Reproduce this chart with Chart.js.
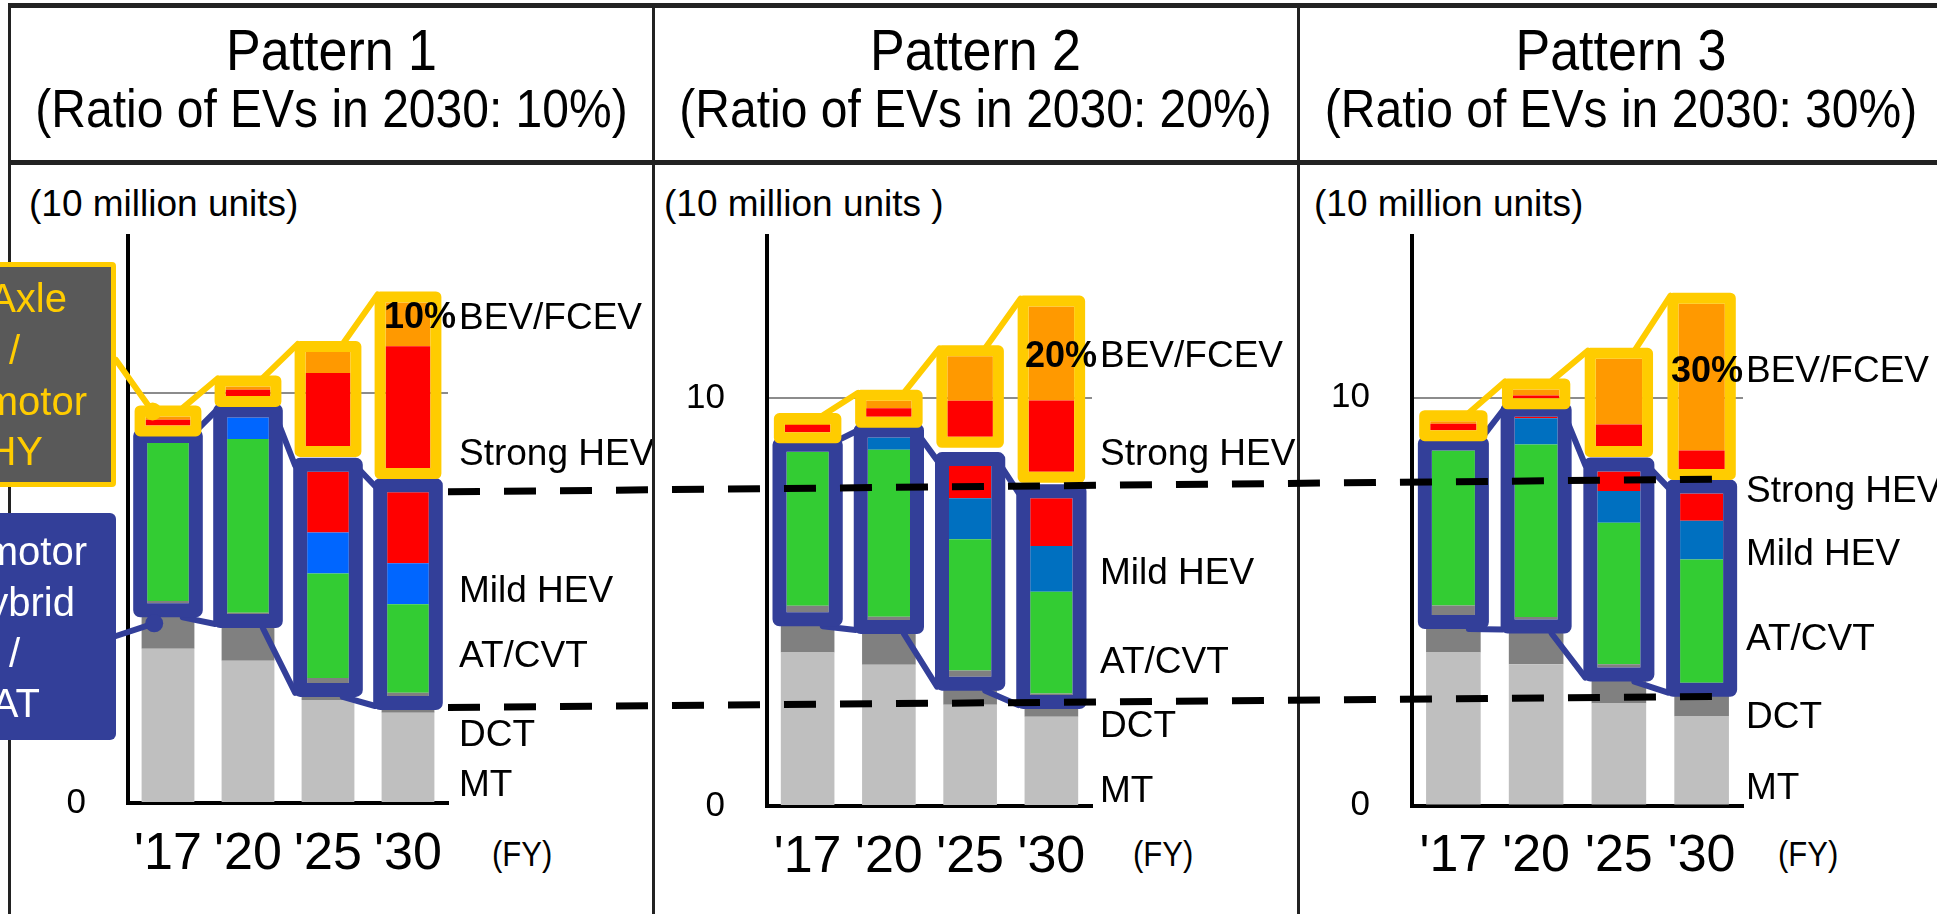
<!DOCTYPE html>
<html>
<head>
<meta charset="utf-8">
<script src="https://cdn.jsdelivr.net/npm/chart.js@4.4.1/dist/chart.umd.min.js"></script>
<style>
  body { margin: 0; width: 1937px; height: 914px; overflow: hidden; background: #fff; position: relative;
         font-family: 'Liberation Sans', Arial, sans-serif; color: #000; }
  .rule { position: absolute; background: #222; }
  .txt { position: absolute; white-space: nowrap; line-height: 1; }
  .ttl { position: absolute; white-space: nowrap; line-height: 1; text-align: center; transform: scaleY(1.12); }
  .leg { position: absolute; white-space: nowrap; line-height: 40px; font-size: 40px; text-align: right; width: 300px; z-index: 3; }
  canvas { position: absolute; z-index: 1; }
</style>
</head>
<body>

<!-- table frame -->
<div class="rule" style="left:8px;top:3px;width:1929px;height:5px"></div>
<div class="rule" style="left:8px;top:160px;width:1929px;height:5px"></div>
<div class="rule" style="left:8px;top:3px;width:3px;height:911px"></div>
<div class="rule" style="left:652px;top:3px;width:3px;height:911px"></div>
<div class="rule" style="left:1297px;top:3px;width:3px;height:911px"></div>

<div class="ttl" style="left:11px;width:641px;top:24px;font-size:52px">Pattern 1</div>
<div class="ttl" style="left:11px;width:641px;top:85px;font-size:48px">(Ratio of EVs in 2030: 10%)</div>
<div class="ttl" style="left:655px;width:641px;top:24px;font-size:52px">Pattern 2</div>
<div class="ttl" style="left:655px;width:641px;top:85px;font-size:48px">(Ratio of EVs in 2030: 20%)</div>
<div class="ttl" style="left:1300px;width:642px;top:24px;font-size:52px">Pattern 3</div>
<div class="ttl" style="left:1300px;width:642px;top:85px;font-size:48px">(Ratio of EVs in 2030: 30%)</div>

<div class="txt" style="left:29px;top:185px;font-size:37px">(10 million units)</div>
<div class="txt" style="left:664px;top:185px;font-size:37px">(10 million units )</div>
<div class="txt" style="left:1314px;top:185px;font-size:37px">(10 million units)</div>

<div class="txt" style="left:492px;top:838px;font-size:31px;transform:scaleY(1.15)">(FY)</div>
<div class="txt" style="left:1133px;top:838px;font-size:31px;transform:scaleY(1.15)">(FY)</div>
<div class="txt" style="left:1778px;top:838px;font-size:31px;transform:scaleY(1.15)">(FY)</div>

<canvas id="c1" width="640" height="748" style="left:12px;top:166px"></canvas>
<canvas id="c2" width="640" height="748" style="left:656px;top:166px"></canvas>
<canvas id="c3" width="636" height="748" style="left:1301px;top:166px"></canvas>

<!-- callout boxes on the left edge -->
<div style="position:absolute;left:-100px;top:262px;width:216px;height:225px;box-sizing:border-box;border:5px solid #FFCC00;background:#595959;border-radius:4px;z-index:2"></div>
<div class="leg" style="left:-233px;top:278px;color:#FFCC00">e-Axle</div>
<div class="leg" style="left:-280px;top:330px;color:#FFCC00">/</div>
<div class="leg" style="left:-213px;top:381px;color:#FFCC00">motor</div>
<div class="leg" style="left:-257px;top:431px;color:#FFCC00">for HY</div>

<div style="position:absolute;left:-100px;top:513px;width:216px;height:227px;background:#333F99;border-radius:6px;z-index:2"></div>
<div class="leg" style="left:-213px;top:531px;color:#fff">motor</div>
<div class="leg" style="left:-225px;top:582px;color:#fff">for hybrid</div>
<div class="leg" style="left:-280px;top:633px;color:#fff">/</div>
<div class="leg" style="left:-260px;top:683px;color:#fff">AT</div>

<canvas id="overlay" width="1937" height="914" style="left:0;top:0;z-index:4;pointer-events:none"></canvas>

<script>
const years = ["'17", "'20", "'25", "'30"];
const rowLabels = ['BEV/FCEV', 'Strong HEV', 'Mild HEV', 'AT/CVT', 'DCT', 'MT'];
const yTicks = [0, 10];

// Pattern 1 (EVs 10% in 2030), 10 million units
const mt1         = [3.76, 3.47, 2.51, 2.20];
const dct1        = [0.85, 0.99, 0.15, 0.15];
const lowGap1     = [0.26, 0.15, 0.27, 0.26];
const dctBox1     = [0.06, 0.03, 0.12, 0.08];
const atcvt1      = [3.85, 4.24, 2.55, 2.16];
const mild1       = [0.00, 0.52, 1.00, 1.00];
const strongHy1   = [0.00, 0.00, 1.48, 1.73];
const highGap1    = [0.43, 0.53, 0.63, 0.59];
const strongAxle1 = [0.14, 0.15, 1.78, 2.97];
const bev1        = [0.08, 0.08, 0.51, 1.07];
const labelPos1   = [11.82, 8.49, 5.15, 3.56, 1.64, 0.42];

// Pattern 2 (EVs 20% in 2030)
const mt2         = [3.76, 3.46, 2.48, 2.19];
const dct2        = [0.80, 0.93, 0.46, 0.33];
const lowGap2     = [0.19, 0.17, 0.23, 0.20];
const dctBox2     = [0.16, 0.08, 0.15, 0.04];
const atcvt2      = [3.77, 4.09, 3.22, 2.49];
const mild2       = [0.00, 0.30, 1.00, 1.12];
const strongHy2   = [0.00, 0.00, 0.79, 1.17];
const highGap2    = [0.48, 0.51, 0.72, 0.65];
const strongAxle2 = [0.18, 0.21, 0.88, 1.75];
const bev2        = [0.02, 0.18, 1.09, 2.30];
const labelPos2   = [11.01, 8.60, 5.70, 3.50, 1.94, 0.35];

// Pattern 3 (EVs 30% in 2030)
const mt3         = [3.75, 3.46, 2.50, 2.18];
const dct3        = [0.75, 0.91, 0.62, 0.67];
const lowGap3     = [0.17, 0.19, 0.26, 0.16];
const dctBox3     = [0.23, 0.06, 0.08, 0.00];
const atcvt3      = [3.80, 4.23, 3.47, 3.02];
const mild3       = [0.00, 0.64, 0.78, 0.95];
const strongHy3   = [0.00, 0.04, 0.48, 0.67];
const highGap3    = [0.50, 0.45, 0.62, 0.60];
const strongAxle3 = [0.16, 0.07, 0.53, 0.45];
const bev3        = [0.06, 0.15, 1.61, 3.60];
const labelPos3   = [10.62, 7.69, 6.14, 4.06, 2.14, 0.42];

// dashed guide lines: [value on pattern 1 axis, value on pattern 3 axis]
const upperDash = [7.59, 8.00];
const lowerDash = [2.33, 2.67];

const BLUE = '#333F99';
const YELLOW = '#FFCC00';
const FONT = "'Liberation Sans', Arial, sans-serif";
Chart.defaults.font.family = FONT;
Chart.defaults.color = '#000';

const panels = [
  { id: 'c1', share: '10%', mildColor: '#0066FF', yMax: 13.83, axisW: 116, axisH: 111, padR: 204, labelGap: 11, legend: true,
    mt: mt1, dct: dct1, lowGap: lowGap1, dctBox: dctBox1, atcvt: atcvt1, mild: mild1, strongHy: strongHy1,
    highGap: highGap1, strongAxle: strongAxle1, bev: bev1, labelPos: labelPos1 },
  { id: 'c2', share: '20%', mildColor: '#0070C0', yMax: 13.97, axisW: 111, axisH: 108, padR: 204, labelGap: 8, legend: false,
    mt: mt2, dct: dct2, lowGap: lowGap2, dctBox: dctBox2, atcvt: atcvt2, mild: mild2, strongHy: strongHy2,
    highGap: highGap2, strongAxle: strongAxle2, bev: bev2, labelPos: labelPos2 },
  { id: 'c3', share: '30%', mildColor: '#0070C0', yMax: 13.96, axisW: 111, axisH: 108.5, padR: 194, labelGap: 3, legend: false,
    mt: mt3, dct: dct3, lowGap: lowGap3, dctBox: dctBox3, atcvt: atcvt3, mild: mild3, strongHy: strongHy3,
    highGap: highGap3, strongAxle: strongAxle3, bev: bev3, labelPos: labelPos3 }
];

function buildDatasets(p) {
  const outer = 0.66, inner = 0.52, upper = 0.56, none = 'rgba(0,0,0,0)';
  return [
    { label: 'MT', data: p.mt, backgroundColor: '#BFBFBF', barPercentage: outer },
    { label: 'DCT', data: p.dct, backgroundColor: '#808080', barPercentage: outer },
    { label: 'gap', data: p.lowGap, backgroundColor: none, barPercentage: inner },
    { label: 'DCT', data: p.dctBox, backgroundColor: '#808080', barPercentage: inner },
    { label: 'AT/CVT', data: p.atcvt, backgroundColor: '#33CC33', barPercentage: inner },
    { label: 'Mild HEV', data: p.mild, backgroundColor: p.mildColor, barPercentage: inner },
    { label: 'Strong HEV', data: p.strongHy, backgroundColor: '#FF0000', barPercentage: inner },
    { label: 'gap', data: p.highGap, backgroundColor: none, barPercentage: upper },
    { label: 'Strong HEV', data: p.strongAxle, backgroundColor: '#FF0000', barPercentage: upper },
    { label: 'BEV/FCEV', data: p.bev, backgroundColor: '#FF9900', barPercentage: upper }
  ];
}

function groupRect(chart, ids, i, e) {
  let l = Infinity, r = -Infinity, t = Infinity, b = -Infinity;
  ids.forEach(function(d) {
    const el = chart.getDatasetMeta(d).data[i];
    const q = el.getProps(['x', 'y', 'base', 'width'], true);
    l = Math.min(l, q.x - q.width / 2);
    r = Math.max(r, q.x + q.width / 2);
    t = Math.min(t, q.y, q.base);
    b = Math.max(b, q.y, q.base);
  });
  return { l: l - e, r: r + e, t: t - e, b: b + e, w: e };
}

function seg(ctx, x1, y1, x2, y2) {
  ctx.beginPath();
  ctx.moveTo(x1, y1);
  ctx.lineTo(x2, y2);
  ctx.stroke();
}

function drawBox(ctx, q, color) {
  const h = q.w / 2;
  ctx.strokeStyle = color;
  ctx.lineWidth = q.w;
  ctx.lineJoin = 'round';
  ctx.strokeRect(q.l + h, q.t + h, q.r - q.l - q.w, q.b - q.t - q.w);
}

function dot(ctx, x, y, color) {
  ctx.fillStyle = color;
  ctx.beginPath();
  ctx.arc(x, y, 9, 0, Math.PI * 2);
  ctx.fill();
}

const boxPlugin = {
  id: 'boxes',
  afterDatasetsDraw(chart) {
    const p = chart.config.options.plugins.boxes;
    const ctx = chart.ctx;
    const ox = chart.canvas.offsetLeft, oy = chart.canvas.offsetTop;
    const blue = [], yellow = [];
    for (let i = 0; i < years.length; i++) {
      blue.push(groupRect(chart, [3, 4, 5, 6], i, 14));
      yellow.push(groupRect(chart, [8, 9], i, 11));
    }
    ctx.save();
    ctx.lineCap = 'round';

    ctx.strokeStyle = BLUE;
    ctx.lineWidth = 6;
    for (let i = 0; i < years.length - 1; i++) {
      const a = blue[i], b = blue[i + 1];
      seg(ctx, a.r - 10, a.t + 5, b.l + 2, b.t + 8);
      seg(ctx, a.r - 20, a.b, b.l + 2, b.b - 4);
    }
    blue.forEach(function(q) { drawBox(ctx, q, BLUE); });
    if (p.legend) {
      ctx.strokeStyle = BLUE;
      ctx.lineWidth = 6;
      seg(ctx, 116 - ox, 636 - oy, blue[0].l + 21, blue[0].b + 6);
      dot(ctx, blue[0].l + 21, blue[0].b + 6, BLUE);
    }

    ctx.strokeStyle = YELLOW;
    ctx.lineWidth = 6;
    for (let i = 0; i < years.length - 1; i++) {
      const a = yellow[i], b = yellow[i + 1];
      seg(ctx, a.r - 18, a.t + 2, b.l + 3, b.t + 3);
    }
    yellow.forEach(function(q) { drawBox(ctx, q, YELLOW); });
    if (p.legend) {
      ctx.strokeStyle = YELLOW;
      ctx.lineWidth = 6;
      seg(ctx, 116 - ox, 360 - oy, yellow[0].l + 18, yellow[0].t + 6);
      dot(ctx, yellow[0].l + 18, yellow[0].t + 6, YELLOW);
    }

    // series names beside the last bar
    const y = chart.scales.y;
    const lx = chart.chartArea.right + p.labelGap;
    ctx.fillStyle = '#000';
    ctx.textBaseline = 'middle';
    ctx.textAlign = 'left';
    ctx.font = '37px ' + FONT;
    rowLabels.forEach(function(t, k) { ctx.fillText(t, lx, y.getPixelForValue(p.labelPos[k])); });
    ctx.font = 'bold 36px ' + FONT;
    ctx.textAlign = 'right';
    ctx.fillText(p.share, lx - 3, y.getPixelForValue(p.labelPos[0]));
    ctx.restore();
  }
};

const charts = panels.map(function(p) {
  return new Chart(document.getElementById(p.id), {
    type: 'bar',
    data: { labels: years, datasets: buildDatasets(p) },
    options: {
      responsive: false,
      animation: false,
      devicePixelRatio: 1,
      layout: { padding: { top: 70, right: p.padR, left: 0, bottom: 0 } },
      datasets: { bar: { categoryPercentage: 1 } },
      plugins: {
        legend: { display: false },
        tooltip: { enabled: false },
        boxes: p
      },
      scales: {
        x: {
          stacked: true,
          afterFit: function(s) { s.height = p.axisH; },
          ticks: { font: { size: 52 }, color: '#000', padding: 20, autoSkip: false, maxRotation: 0 },
          grid: { display: false, drawTicks: false },
          border: { display: true, color: '#000', width: 4 }
        },
        y: {
          stacked: true,
          min: 0,
          max: p.yMax,
          afterBuildTicks: function(s) { s.ticks = yTicks.map(function(v) { return { value: v }; }); },
          afterFit: function(s) { s.width = p.axisW; },
          ticks: { font: { size: 35 }, color: '#000', padding: 42 },
          grid: {
            drawTicks: false,
            lineWidth: 2,
            color: function(c) { return c.tick && c.tick.value === 10 ? '#8C8C8C' : 'rgba(0,0,0,0)'; }
          },
          border: { display: true, color: '#000', width: 4 }
        }
      }
    },
    plugins: [boxPlugin]
  });
});

// dashed guides running from pattern 1 to pattern 3
(function() {
  const ctx = document.getElementById('overlay').getContext('2d');
  const c1 = charts[0], c3 = charts[2];
  const e1 = c1.canvas, e3 = c3.canvas;
  const x1 = e1.offsetLeft + c1.chartArea.right;
  const x2 = e3.offsetLeft + c3.scales.x.getPixelForValue(3) + 12;
  ctx.strokeStyle = '#000';
  ctx.lineWidth = 7;
  ctx.setLineDash([32, 24]);
  [upperDash, lowerDash].forEach(function(d) {
    ctx.beginPath();
    ctx.moveTo(x1, e1.offsetTop + c1.scales.y.getPixelForValue(d[0]));
    ctx.lineTo(x2, e3.offsetTop + c3.scales.y.getPixelForValue(d[1]));
    ctx.stroke();
  });
})();
</script>
</body>
</html>
